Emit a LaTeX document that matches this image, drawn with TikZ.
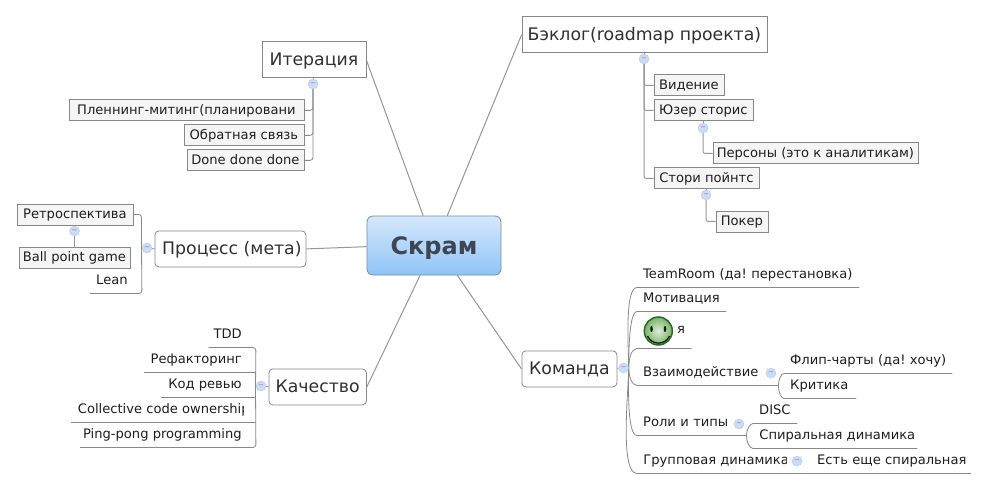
\documentclass[tikz,border=0pt]{standalone}
\usepackage{fontspec}
\setmainfont{DejaVu Sans}
\usepackage{xcolor}
\usetikzlibrary{positioning, backgrounds}
\definecolor{inkdark}{RGB}{48, 48, 48}
\definecolor{inksoft}{RGB}{30, 30, 30}
\definecolor{inkroot}{RGB}{62, 70, 84}
\definecolor{edgegray}{RGB}{136, 136, 136}
\definecolor{linkgray}{RGB}{150, 150, 150}
\definecolor{childfill}{RGB}{245, 245, 245}
\definecolor{foldfill}{RGB}{205, 220, 245}
\definecolor{rootlight}{RGB}{214, 232, 251}
\definecolor{rootblue}{RGB}{142, 196, 247}
\definecolor{rootedge}{RGB}{120, 140, 160}
\definecolor{smilegreen}{RGB}{90, 160, 64}
\definecolor{smiledark}{RGB}{40, 105, 45}
\frenchspacing
% text cut off at a given width
\newcommand{\cuttext}[2]{\tikz[x=1pt, y=1pt, baseline=0pt]{
    \path[use as bounding box, clip] (0,-4) rectangle (#1,12);
    \node[inner sep=0, text width=, text height=, text depth=, align=none,
          execute at end node=, anchor=base west] at (0,0) {#2};}}

\begin{document}
\begin{tikzpicture}[
    x=1pt, y=-1pt,
    root/.style={draw=rootedge, line width=0.8, rounded corners=6, minimum width=134, minimum height=59,
                 top color=rootlight, bottom color=rootblue, text=inkroot, text height=17.5, text depth=0.5,
                 font=\fontsize{24}{28}\selectfont\bfseries},
    square/.style={draw=edgegray, line width=0.8, minimum width=#1, minimum height=36, inner sep=0,
                   text height=13, text depth=1.5, anchor=north west, text=inkdark,
                   font=\fontsize{17.3}{20}\selectfont},
    round/.style={square=#1, rounded corners=4},
    child/.style={draw=edgegray, line width=0.8, fill=childfill, minimum width=#1, minimum height=21, inner sep=0,
                  text height=10, text depth=1.5, anchor=north west, text=inksoft,
                  font=\fontsize{13.1}{15}\selectfont},
    leaf/.style={text width=#1-6, inner xsep=3, inner ysep=5.5, text height=10, text depth=3,
                 anchor=south west, align=left, text=inksoft, font=\fontsize{13.1}{15}\selectfont},
    rleaf/.style={leaf=#1, text width=#1, inner xsep=0, align=flush right,
                  execute at end node=\hspace*{14pt}},
    fold/.style={circle, draw=foldfill!90!blue, fill=foldfill, minimum size=10, inner sep=0,
                 label={[text=edgegray, inner sep=0, font=\fontsize{7}{7}\selectfont]center:−}},
    branch/.style={draw=edgegray, line width=0.8, rounded corners=3},
    link/.style={draw=linkgray, line width=1}
]
    \useasboundingbox (0,0) rectangle (987,489);

    % center
    \node[root] (scrum) at (434,245.5) {Скрам};

    % top left
    \node[square=104] (iter) at (261.5,41.5) {Итерация};
    \node[fold] (iterfold) at (313,84) {};
    \node[child=235] (planning) at (68.5,99.5) {Пленнинг-митинг(планировани};
    \node[child=120] (feedback) at (183.5,124.5) {Обратная связь};
    \node[child=117] (done) at (186.5,149.5) {Done done done};

    % left
    \node[round=151] (process) at (154.5,230.5) {\hspace{3pt}Процесс (мета)};
    \node[fold] (procfold) at (147,248) {};
    \coordinate (procbus) at (141.5,248);
    \node[child=116] (retro) at (16.5,203.5) {Ретроспектива};
    \node[fold] (retrofold) at (74.5,231) {};
    \node[child=111] (ballgame) at (18.5,246.5) {Ball point game};
    \node[rleaf=51.5] (lean) at (90,293.5) {Lean};

    % bottom left
    \node[round=97.5] (quality) at (268.5,368.5) {Качество};
    \node[fold] (qualfold) at (261,386) {};
    \coordinate (qualbus) at (255.5,386);
    \node[rleaf=47] (tdd) at (208.5,347.5) {TDD};
    \node[rleaf=111.5] (refactor) at (144,372.5) {Рефакторинг};
    \node[rleaf=94.5] (review) at (161,397.5) {Код ревью};
    \node[rleaf=184.5] (ownership) at (71,422.5) {\cuttext{166}{Collective code ownership}\hspace*{-2pt}};
    \node[rleaf=175.5] (pingpong) at (80,447.5) {Ping-pong programming};

    % top right
    \node[square=245] (backlog) at (521.5,16.5) {Бэклог(roadmap проекта)};
    \node[fold] (backfold) at (644,59) {};
    \node[child=70] (vision) at (653.5,74.5) {Видение};
    \node[child=99] (stories) at (653.5,99.5) {Юзер сторис};
    \node[fold] (storyfold) at (703,128) {};
    \node[child=205] (personas) at (712.5,142.5) {Персоны (это к аналитикам)};
    \node[child=105] (points) at (653.5,167.5) {Стори пойнтс};
    \node[fold] (pointfold) at (706,195) {};
    \node[child=52] (poker) at (715.5,210.5) {Покер};

    % bottom right
    \node[round=95] (team) at (521.5,350.5) {Команда};
    \node[fold] (teamfold) at (623.5,368) {};
    \node[leaf=219] (teamroom) at (640,287.5) {TeamRoom (да! перестановка)};
    \node[leaf=86] (motive) at (640,311.5) {Мотивация};
    \node[leaf=51] (me) at (640,348.5) {\hspace{34pt}\raisebox{6pt}{я}};
    \node[leaf=138] (interact) at (640,385.5) {Взаимодействие};
    \node[fold] (interfold) at (771,373) {};
    \node[leaf=165] (flip) at (787,373.5) {Флип-чарты (да! хочу)};
    \node[leaf=69] (critic) at (787,398.5) {Критика};
    \node[leaf=106] (roles) at (640,435.5) {Роли и типы};
    \node[fold] (rolefold) at (739,424) {};
    \node[leaf=41] (disc) at (756,423.5) {DISC};
    \node[leaf=161] (spiral) at (756,448.5) {\cuttext{154}{Спиральная динамика}};
    \node[leaf=171] (groupdyn) at (640,473.5) {\cuttext{143}{Групповая динамика}};
    \node[fold] (groupfold) at (797,461) {};
    \node[leaf=160] (spiralmore) at (811,473.5) {\hspace{3pt}Есть еще спиральная};

    % smiley
    \node[circle, draw=smiledark, line width=1.5, minimum size=28, inner sep=0,
          inner color=smilegreen!20!white, outer color=smilegreen!80!white] (smile) at (658.3,331) {};
    \fill[black!70!smiledark] (651.5,329) ellipse (1.3 and 3) (665,329) ellipse (1.3 and 3);
    \draw[black!70!smiledark, line width=1.3] (647.5,336) .. controls (652,345.5) and (665,345.5) .. (669.5,336);

    \begin{scope}[on background layer]
        \draw[link] (iter.east) -- (scrum.110);
        \draw[link] (backlog.west) -- (scrum.66);
        \draw[link] (process.east) -- (scrum.181);
        \draw[link] (quality.east) -- (scrum.245);
        \draw[link] (team.west) -- (scrum.308);

        \draw[link] (iter.south -| iterfold) -- (iterfold);
        \draw[branch] (iterfold) |- (planning.east);
        \draw[branch] (iterfold) |- (feedback.east);
        \draw[branch] (iterfold) |- (done.east);

        \draw[branch] (procfold) -- (process.west);
        \draw[branch] (retro.east) -| (procbus);
        \draw[branch] (lean.south west) -- (lean.south east) -- (procbus);
        \draw[branch] (procfold) -- (procbus);
        \draw[link] (retro.south -| retrofold) -- (ballgame.north -| retrofold);

        \draw[branch] (qualfold) -- (quality.west);
        \draw[branch] (qualfold) -- (qualbus);
        \draw[branch] (tdd.south west) -- (tdd.south east) -- (qualbus);
        \draw[branch] (refactor.south west) -- (refactor.south east);
        \draw[branch] (review.south west) -- (review.south east);
        \draw[branch] (ownership.south west) -- (ownership.south east);
        \draw[branch] (pingpong.south west) -- (pingpong.south east) -- (qualbus);

        \draw[link] (backlog.south -| backfold) -- (backfold);
        \draw[link, rounded corners=2] (backfold) |- (vision.west);
        \draw[link, rounded corners=2] (backfold) |- (stories.west);
        \draw[link, rounded corners=2] (backfold) |- (points.west);
        \draw[link] (stories.south -| storyfold) -- (storyfold);
        \draw[link, rounded corners=2] (storyfold) |- (personas.west);
        \draw[link] (points.south -| pointfold) -- (pointfold);
        \draw[link, rounded corners=2] (pointfold) |- (poker.west);

        \draw[branch] (teamfold) -- (team.east);
        \foreach \kid in {teamroom, motive}
            \draw[branch] (teamfold.east) to[out=90, in=180, looseness=0.5] (\kid.south west) -- (\kid.south east);
        \draw[branch] (teamfold.east) to[out=90, in=180] (me.south west) -- (me.south east);
        \draw[branch] (teamfold.east) to[out=270, in=180] (interact.south west) -- (interact.south east);
        \foreach \kid in {roles, groupdyn}
            \draw[branch] (teamfold.east) to[out=270, in=180, looseness=0.5] (\kid.south west) -- (\kid.south east);

        \draw[branch] (interact.south east) to[out=90, in=180] (flip.south west) -- (flip.south east);
        \draw[branch] (interact.south east) to[out=270, in=180] (critic.south west) -- (critic.south east);
        \draw[branch] (roles.south east) to[out=90, in=180] (disc.south west) -- (disc.south east);
        \draw[branch] (roles.south east) to[out=270, in=180] (spiral.south west) -- (spiral.south east);
        \draw[branch] (groupdyn.south east) -- (spiralmore.south west) -- (spiralmore.south east);
    \end{scope}
\end{tikzpicture}
\end{document}
